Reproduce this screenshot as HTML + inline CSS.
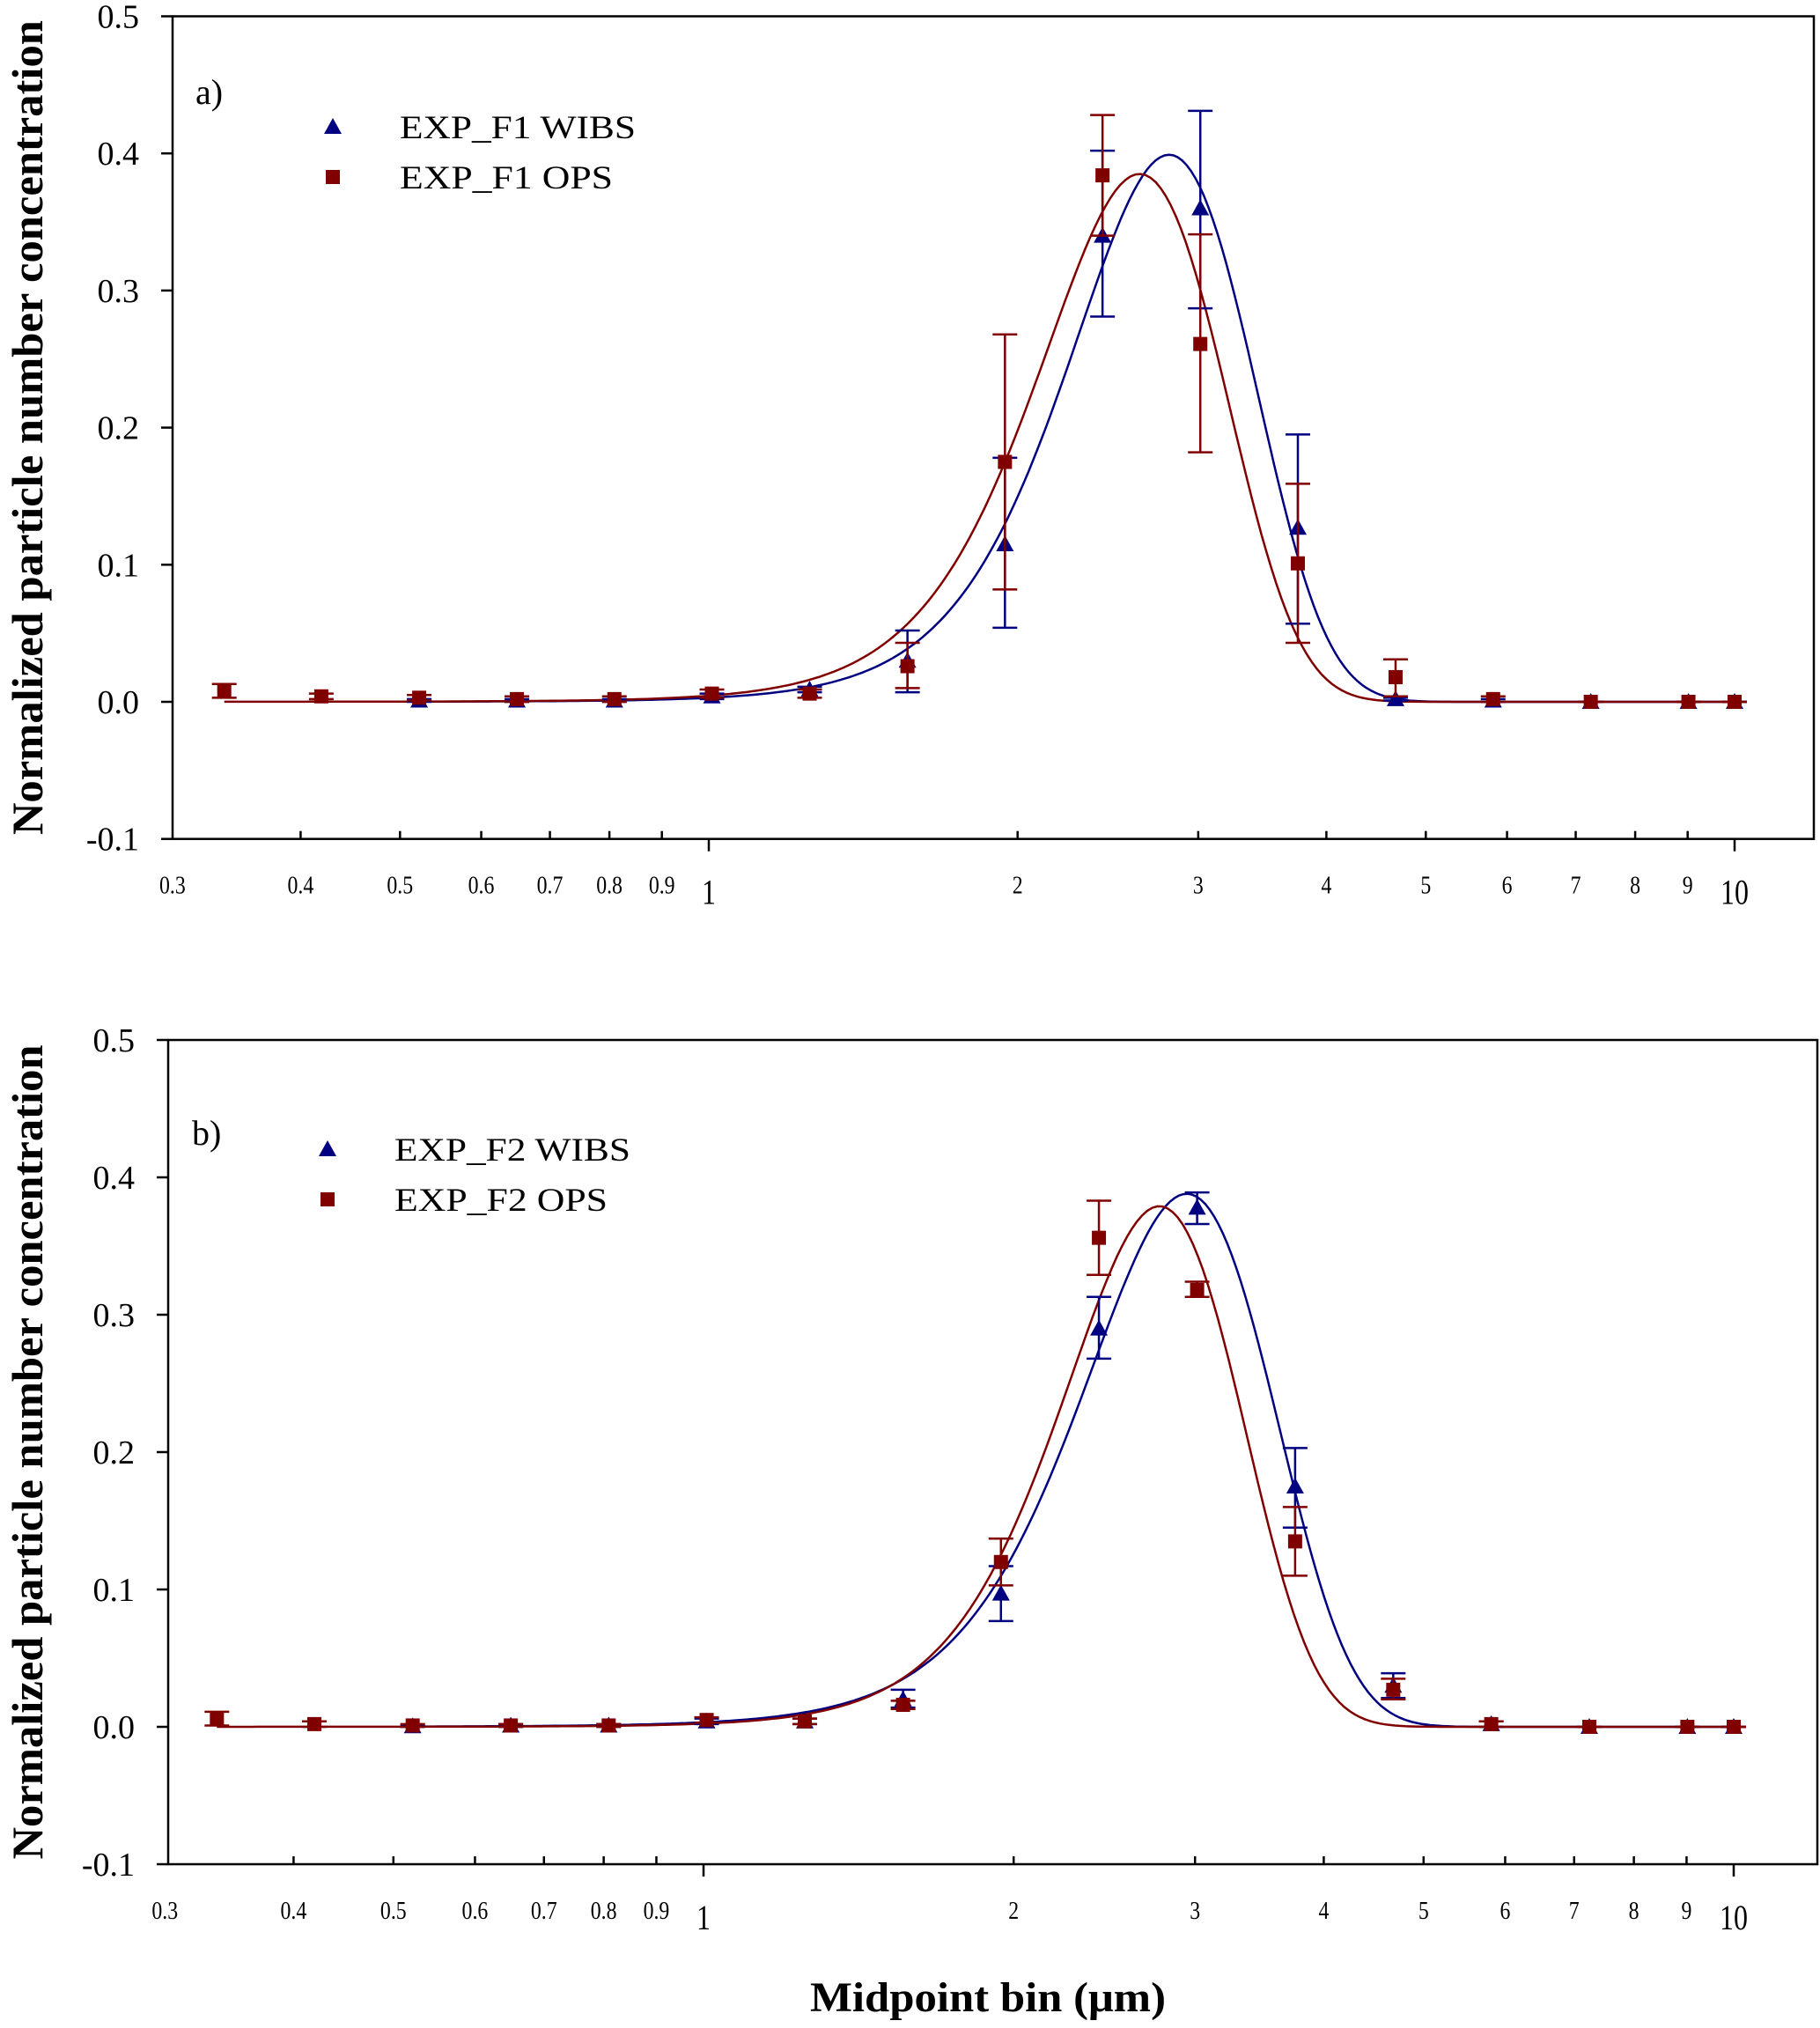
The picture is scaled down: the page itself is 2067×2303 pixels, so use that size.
<!DOCTYPE html>
<html><head><meta charset="utf-8"><style>
html,body{margin:0;padding:0;background:#fff;}
svg{display:block;font-family:"Liberation Serif",serif;}
</style></head><body>
<svg id="chart" width="2067" height="2303" viewBox="0 0 2067 2303" xmlns="http://www.w3.org/2000/svg">
<text x="1122" y="2284" font-size="48" font-weight="bold" text-anchor="middle" textLength="404" lengthAdjust="spacingAndGlyphs">Midpoint bin (μm)</text>
</svg>
<script>
const binsOPS = [0.337,0.419,0.522,0.650,0.809,1.007,1.254,1.562,1.944,2.42,3.014,3.752,4.672,5.816,7.241,9.016,10];
const binsWIBS = [0.522,0.650,0.809,1.007,1.254,1.562,1.944,2.42,3.014,3.752,4.672,5.816,7.241,9.016,10];
// panel a
const aWibsVal = [0.001,0.001,0.001,0.004,0.009,0.030,0.115,0.340,0.360,0.127,0.002,0.001,0,0,0];
const aWibsLo  = [0.000,0.000,0.000,0.002,0.007,0.007,0.054,0.281,0.287,0.057,0.001,0.000,0,0,0];
const aWibsHi  = [0.002,0.002,0.002,0.006,0.011,0.052,0.178,0.402,0.431,0.195,0.003,0.002,0,0,0];
const aOpsVal = [0.008,0.004,0.003,0.002,0.002,0.006,0.006,0.026,0.175,0.384,0.261,0.101,0.018,0.002,0,0,0];
const aOpsLo  = [0.003,0.002,0.001,0.000,0.000,0.003,0.003,0.010,0.082,0.340,0.182,0.043,0.004,0.000,0,0,0];
const aOpsHi  = [0.013,0.006,0.005,0.004,0.004,0.009,0.009,0.043,0.268,0.428,0.341,0.159,0.031,0.004,0,0,0];
// panel b
const bWibsVal = [0.0005,0.001,0.001,0.004,0.004,0.020,0.097,0.290,0.378,0.175,0.030,0.002,0,0,0];
const bWibsLo  = [0.000,0.000,0.000,0.002,0.002,0.014,0.077,0.268,0.366,0.145,0.021,0.000,0,0,0];
const bWibsHi  = [0.001,0.002,0.002,0.006,0.006,0.027,0.117,0.313,0.389,0.203,0.039,0.004,0,0,0];
const bOpsVal = [0.006,0.002,0.001,0.001,0.001,0.005,0.004,0.016,0.120,0.356,0.318,0.135,0.027,0.002,0,0,0];
const bOpsLo  = [0.001,0.000,0.000,0.000,0.000,0.003,0.002,0.013,0.103,0.329,0.313,0.110,0.020,0.000,0,0,0];
const bOpsHi  = [0.011,0.004,0.002,0.002,0.002,0.007,0.006,0.019,0.137,0.383,0.324,0.160,0.035,0.004,0,0,0];
// gaussian fit params [amplitude, center, width]
const aWibsFit = [0.399,2.81,0.578];
const aOpsFit  = [0.385,2.63,0.546];
const bWibsFit = [0.388,2.945,0.63];
const bOpsFit  = [0.379,2.77,0.555];
const yTicks = [-0.1,0.0,0.1,0.2,0.3,0.4,0.5];
const xMinor = [0.4,0.5,0.6,0.7,0.8,0.9,2,3,4,5,6,7,8,9];
const xSmallLabels = ["0.3","0.4","0.5","0.6","0.7","0.8","0.9","2","3","4","5","6","7","8","9"];
const xSmallVals = [0.3,0.4,0.5,0.6,0.7,0.8,0.9,2,3,4,5,6,7,8,9];
const xBig = [1,10];

const NS="http://www.w3.org/2000/svg";
const svg=document.getElementById('chart');
const BLUE="#000080", RED="#800000";
function mk(tag,attrs,parent){const e=document.createElementNS(NS,tag);for(const k in attrs)e.setAttribute(k,attrs[k]);(parent||svg).appendChild(e);return e;}

function panel(P){
  const g=mk('g',{});
  
  
  const X=v=>P.x1+Math.log10(v)*P.dec;
  const Y=v=>P.y0-v*P.per*10;
  const top=Y(0.5), bot=Y(-0.1);
  const frame=mk('rect',{x:P.left,y:top,width:P.right-P.left,height:bot-top,fill:'none',stroke:'#000','stroke-width':2.5},g);
  
  
  yTicks.forEach(t=>{
    const yy=Y(t);
    mk('line',{x1:P.left-13,x2:P.left,y1:yy,y2:yy,stroke:'#000','stroke-width':2.5},g);
    const tx=mk('text',{x:P.left-38,y:yy+13,'font-size':38,'text-anchor':'end'},g);
    
    
    tx.textContent=t.toFixed(1);
  });
  xMinor.forEach(v=>{const xx=X(v);mk('line',{x1:xx,x2:xx,y1:bot-9,y2:bot,stroke:'#000','stroke-width':2.5},g);});
  xBig.forEach(v=>{const xx=X(v);mk('line',{x1:xx,x2:xx,y1:bot,y2:bot+14,stroke:'#000','stroke-width':2.5},g);
    const tx=mk('text',{x:xx,y:bot+74,'font-size':40,'text-anchor':'middle',transform:`scale(0.8,1) translate(${xx*0.25},0)`},g);
    
    
    tx.textContent=String(v);});
  xSmallVals.forEach((v,i)=>{const xx=X(v);
    const tx=mk('text',{x:xx,y:bot+62,'font-size':28,'text-anchor':'middle',transform:`scale(0.85,1) translate(${xx*(1/0.85-1)},0)`},g);
    
    
    tx.textContent=xSmallLabels[i];});
  const yl=mk('text',{x:0,y:0,'font-size':50,'font-weight':'bold','text-anchor':'middle',textLength:925,lengthAdjust:'spacingAndGlyphs',transform:`translate(48,${(top+bot)/2}) rotate(-90)`},g);
  
  
  yl.textContent='Normalized particle number concentration';
  const pl=mk('text',{x:P.lab[0],y:P.lab[1],'font-size':40},g);
  
  
  pl.textContent=P.labText;
  function curve(fit,x0,col,nm){
    let d='';const n=300;
    for(let i=0;i<=n;i++){const lv=Math.log10(x0)+(1-Math.log10(x0))*i/n;const v=Math.pow(10,lv);
      const yv=fit[0]*Math.exp(-0.5*Math.pow((v-fit[1])/fit[2],2));d+=(i?'L':'M')+X(v).toFixed(1)+','+Y(yv).toFixed(1);}
    const p=mk('path',{d,fill:'none',stroke:col,'stroke-width':2.5},g);
    
    
  }
  function series(xs,vals,lo,hi,col,tri,nm){
    xs.forEach((xv,i)=>{
      const xx=X(xv);
      const e=mk('g',{},g);
      
      
      mk('line',{x1:xx,x2:xx,y1:Y(lo[i]),y2:Y(hi[i]),stroke:col,'stroke-width':2.5},e);
      mk('line',{x1:xx-14,x2:xx+14,y1:Y(lo[i]),y2:Y(lo[i]),stroke:col,'stroke-width':2.5},e);
      mk('line',{x1:xx-14,x2:xx+14,y1:Y(hi[i]),y2:Y(hi[i]),stroke:col,'stroke-width':2.5},e);
      const yy=Y(vals[i]);
      if(tri) mk('polygon',{points:`${xx},${yy-10} ${xx-10},${yy+8} ${xx+10},${yy+8}`,fill:col},e);
      else mk('rect',{x:xx-8,y:yy-8,width:16,height:16,fill:col},e);
    });
  }
  curve(P.wfit,0.522,BLUE,'wibs-fit-curve');
  curve(P.ofit,0.337,RED,'ops-fit-curve');
  series(binsWIBS,P.wv,P.wl,P.wh,BLUE,true,'wibs-point');
  series(binsOPS,P.ov,P.ol,P.oh,RED,false,'ops-point');
  const lg=mk('g',{},g);
  
  
  const [lx,ly]=P.leg;
  mk('polygon',{points:`${lx},${ly-10} ${lx-10},${ly+8} ${lx+10},${ly+8}`,fill:BLUE},lg);
  mk('rect',{x:lx-8,y:ly+57-8,width:16,height:16,fill:RED},lg);
  const t1=mk('text',{x:lx+76,y:ly+13,'font-size':37,textLength:268,lengthAdjust:'spacingAndGlyphs'},lg);
  
  
  t1.textContent=P.legText[0];
  const t2=mk('text',{x:lx+76,y:ly+70,'font-size':37,textLength:242,lengthAdjust:'spacingAndGlyphs'},lg);
  
  
  t2.textContent=P.legText[1];
}
panel({name:'panel-a',left:196,right:2060,x1:805,dec:1165,y0:797,per:155.7,lab:[222,118],labText:'a)',
  leg:[378,144],legText:['EXP_F1 WIBS','EXP_F1 OPS'],wfit:aWibsFit,ofit:aOpsFit,
  wv:aWibsVal,wl:aWibsLo,wh:aWibsHi,ov:aOpsVal,ol:aOpsLo,oh:aOpsHi});
panel({name:'panel-b',left:191,right:2064,x1:799,dec:1170,y0:1961,per:156,lab:[218,1300],labText:'b)',
  leg:[372,1305],legText:['EXP_F2 WIBS','EXP_F2 OPS'],wfit:bWibsFit,ofit:bOpsFit,
  wv:bWibsVal,wl:bWibsLo,wh:bWibsHi,ov:bOpsVal,ol:bOpsLo,oh:bOpsHi});
</script>
</body></html>
